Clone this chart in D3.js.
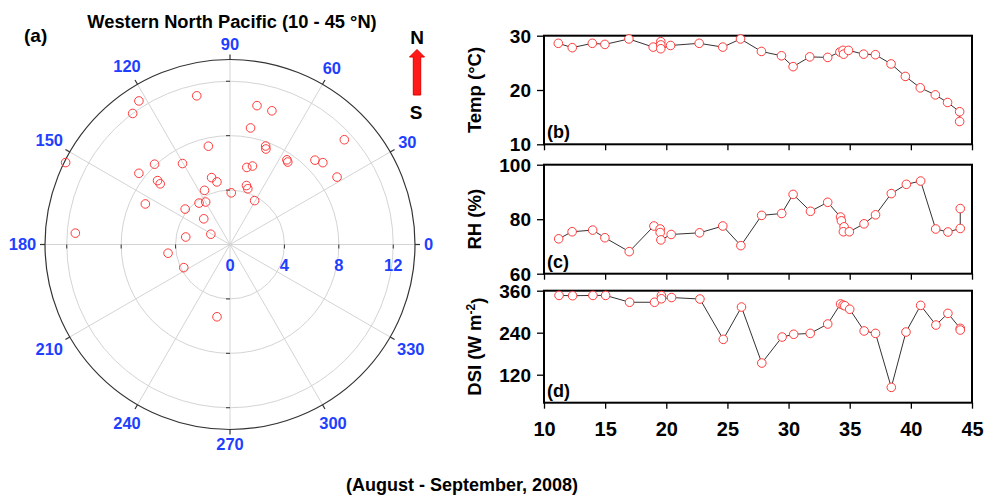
<!DOCTYPE html>
<html>
<head>
<meta charset="utf-8">
<script src="https://cdn.jsdelivr.net/npm/d3@7"></script>
<style>
  body { margin: 0; background: #fff; }
  text { font-family: "Liberation Sans", Arial, sans-serif; font-weight: bold; }
</style>
</head>
<body>
<svg id="chart" width="993" height="496"></svg>
<script>
// polar panel (a): direction (deg) and speed of each point
var windDir = [102.6, 122.4, 126.6, 79.0, 72.6, 80.0, 42.5, 102.4, 70.1, 69.4, 153.5, 133.2, 120.4, 77.7,
    74.0, 56.1, 55.0, 44.8, 41.4, 32.2, 142.0, 105.4, 101.8, 138.6, 139.0, 74.4, 72.3, 88.6, 115.2, 60.7,
    126.8, 119.8, 154.4, 141.7, 135.6, 175.8, 170.4, 151.8, 188.0, 206.6, 259.8];
var windSpd = [11.2, 12.5, 12.0, 10.4, 10.3, 8.7, 11.4, 7.4, 7.7, 7.5, 13.5, 8.1, 6.9, 5.8,
    6.0, 7.5, 7.4, 8.8, 9.1, 9.3, 8.5, 5.1, 4.7, 7.1, 6.8, 4.5, 4.3, 3.8, 4.4, 3.7,
    3.8, 3.6, 6.9, 4.2, 2.7, 11.4, 3.3, 1.6, 4.6, 3.8, 5.4];
var angleTicks = [0, 30, 60, 90, 120, 150, 180, 210, 240, 270, 300, 330];
var radialTicks = [0, 4, 8, 12];

// panel (b) temperature
var tempLat = [11.17, 12.31, 13.95, 14.98, 16.94, 18.93, 19.55, 19.55, 19.55, 20.35, 22.69, 24.62, 26.07,
    27.78, 29.42, 30.37, 31.73, 33.2, 34.2, 34.45, 34.5, 34.9, 36.14, 37.1, 38.38, 39.55, 40.77, 42.0,
    43.0, 43.99, 43.99];
var tempVal = [28.6, 27.8, 28.6, 28.4, 29.4, 27.9, 28.9, 28.3, 27.6, 28.2, 28.6, 27.9, 29.4,
    27.1, 26.3, 24.3, 26.1, 26.0, 27.0, 27.3, 26.6, 27.3, 26.6, 26.5, 24.8, 22.5, 20.4, 19.1,
    17.7, 16.0, 14.2];

// panel (c) relative humidity
var rhLat = [11.2, 12.3, 13.98, 14.98, 16.97, 18.99, 19.5, 19.5, 19.56, 20.4, 22.72, 24.62, 26.1, 27.8,
    29.44, 30.37, 31.79, 33.2, 34.25, 34.32, 34.54, 34.48, 34.97, 36.17, 37.11, 38.4, 39.63, 40.8,
    42.03, 43.03, 44.04, 44.04];
var rhVal = [72.8, 75.4, 76.0, 73.2, 68.1, 77.5, 76.4, 75.1, 72.4, 74.4, 75.0, 77.5, 70.3, 81.4,
    82.1, 89.1, 82.9, 86.2, 80.8, 79.4, 77.2, 75.4, 75.4, 78.3, 81.6, 89.4, 92.8, 94.0,
    76.4, 75.3, 76.6, 83.9];

// panel (d) downward solar irradiance
var dsiLat = [11.23, 12.34, 14.0, 15.04, 17.0, 19.04, 19.6, 19.6, 20.43, 22.75, 24.66, 26.15, 27.81,
    29.47, 30.42, 31.77, 33.2, 34.25, 34.46, 34.6, 35.0, 36.18, 37.11, 38.4, 39.6, 40.8, 42.05,
    43.03, 44.04, 44.04];
var dsiVal = [346.5, 345.7, 346.5, 346.5, 327, 327, 346, 337, 340.5, 336.2, 221, 313.3, 153.3,
    227.6, 235.5, 238, 264.8, 322, 319, 317, 307, 245, 238.1, 83.8, 241.9, 318.1, 261.9,
    295.2, 252.4, 247.6];

var latTicks = [10, 15, 20, 25, 30, 35, 40, 45];

var red = '#ff3b3b';
var blue = '#1f3fff';
var svg = d3.select('#chart');

// ---------- polar plot ----------
var cx = 230, cy = 244.5, R = 185;
var rScale = d3.scaleLinear().domain([0, 13.6]).range([0, R]);
function px(a, r) { return cx + r * Math.cos(a * Math.PI / 180); }
function py(a, r) { return cy - r * Math.sin(a * Math.PI / 180); }

var polar = svg.append('g');

// rings
polar.selectAll('.ring')
    .data(radialTicks.filter(function(d) { return d > 0; }))
    .enter().append('circle')
    .attr('cx', cx).attr('cy', cy)
    .attr('r', function(d) { return rScale(d); })
    .attr('fill', 'none')
    .attr('stroke', '#d4d4d4')
    .attr('stroke-width', 1);

// spokes
polar.selectAll('.spoke')
    .data(angleTicks)
    .enter().append('line')
    .attr('x1', cx).attr('y1', cy)
    .attr('x2', function(d) { return px(d, R); })
    .attr('y2', function(d) { return py(d, R); })
    .attr('stroke', '#d4d4d4')
    .attr('stroke-width', 1);

// outer circle
polar.append('circle')
    .attr('cx', cx).attr('cy', cy).attr('r', R)
    .attr('fill', 'none')
    .attr('stroke', '#333')
    .attr('stroke-width', 1.2);

// outer ticks
polar.selectAll('.otick')
    .data(angleTicks)
    .enter().append('line')
    .attr('x1', function(d) { return px(d, R); })
    .attr('y1', function(d) { return py(d, R); })
    .attr('x2', function(d) { return px(d, R + 5); })
    .attr('y2', function(d) { return py(d, R + 5); })
    .attr('stroke', '#333')
    .attr('stroke-width', 1.2);

// small ticks on the horizontal and vertical axes
[4, 8, 12].forEach(function(v) {
    [-1, 1].forEach(function(s) {
        polar.append('line')
            .attr('x1', cx + s * rScale(v)).attr('x2', cx + s * rScale(v))
            .attr('y1', cy).attr('y2', cy + 4)
            .attr('stroke', '#333');
        polar.append('line')
            .attr('x1', cx - 4).attr('x2', cx)
            .attr('y1', cy + s * rScale(v)).attr('y2', cy + s * rScale(v))
            .attr('stroke', '#333');
    });
});

// angle labels
function labelRadius(d) {
    var n = String(d).length;
    var a = d * Math.PI / 180;
    return 194 + 4.5 * n * Math.abs(Math.cos(a)) + 6 * Math.abs(Math.sin(a));
}
polar.selectAll('.alabel')
    .data(angleTicks)
    .enter().append('text')
    .attr('x', function(d) { return px(d, labelRadius(d)); })
    .attr('y', function(d) { return py(d, labelRadius(d)); })
    .attr('dy', '0.36em')
    .attr('text-anchor', 'middle')
    .attr('fill', blue)
    .style('font-size', '16.5px')
    .text(function(d) { return d; });

// radial labels
polar.selectAll('.rlabel')
    .data(radialTicks)
    .enter().append('text')
    .attr('x', function(d) { return cx + rScale(d); })
    .attr('y', cy + 21)
    .attr('dy', '0.36em')
    .attr('text-anchor', 'middle')
    .attr('fill', blue)
    .style('font-size', '16.5px')
    .text(function(d) { return d; });

// points
polar.selectAll('.pt')
    .data(windDir)
    .enter().append('circle')
    .attr('cx', function(d, i) { return px(d, rScale(windSpd[i])); })
    .attr('cy', function(d, i) { return py(d, rScale(windSpd[i])); })
    .attr('r', 4.3)
    .attr('fill', 'none')
    .attr('stroke', red)
    .attr('stroke-width', 1);

// titles
svg.append('text')
    .attr('x', 232).attr('y', 28)
    .attr('text-anchor', 'middle')
    .style('font-size', '18.3px')
    .text('Western North Pacific (10 - 45 °N)');
svg.append('text')
    .attr('x', 24).attr('y', 42)
    .style('font-size', '19px')
    .text('(a)');

// N / S arrow
svg.append('text').attr('x', 417).attr('y', 44).attr('text-anchor', 'middle')
    .style('font-size', '19px').text('N');
svg.append('text').attr('x', 416).attr('y', 119).attr('text-anchor', 'middle')
    .style('font-size', '19px').text('S');
svg.append('path')
    .attr('d', 'M413.3,95 L413.3,57 L409.5,57 L417,49.5 L424.5,57 L420.7,57 L420.7,95 Z')
    .attr('fill', '#ff1a1a')
    .attr('stroke', '#e00000')
    .attr('stroke-width', 1);

// ---------- line panels ----------
var left = 544, right = 972;
var xScale = d3.scaleLinear().domain([10, 45]).range([left, right]);

var panels = [
    { lat: tempLat, val: tempVal, top: 35.7, bottom: 144.3, domain: [10, 30], ticks: [10, 20, 30], tag: '(b)', title: 'Temp (°C)' },
    { lat: rhLat, val: rhVal, top: 164.7, bottom: 273.7, domain: [60, 100], ticks: [60, 80, 100], tag: '(c)', title: 'RH (%)' },
    { lat: dsiLat, val: dsiVal, top: 290.7, bottom: 402.7, domain: [40, 360], ticks: [120, 240, 360], tag: '(d)', title: 'DSI' }
];

panels.forEach(function(p, k) {
    var yScale = d3.scaleLinear().domain(p.domain).range([p.bottom, p.top]);
    var g = svg.append('g');

    // y axis
    var yAxis = g.append('g')
        .attr('transform', 'translate(' + left + ',0)')
        .call(d3.axisLeft(yScale).tickValues(p.ticks).tickSize(7).tickSizeOuter(0).tickPadding(6));
    yAxis.select('.domain').remove();
    yAxis.selectAll('line').attr('stroke', '#000').attr('stroke-width', 1.3);
    yAxis.selectAll('text').style('font-size', '19px').attr('fill', '#000')
        .attr('dy', '0.34em')
        .style('font-family', '"Liberation Sans", Arial, sans-serif');

    // x axis
    var xAxis = g.append('g')
        .attr('transform', 'translate(0,' + p.bottom + ')')
        .call(d3.axisBottom(xScale).tickValues(latTicks).tickSize(6).tickSizeOuter(0).tickPadding(13)
            .tickFormat(k === 2 ? d3.format('d') : function() { return ''; }));
    xAxis.select('.domain').remove();
    xAxis.selectAll('line').attr('stroke', '#000').attr('stroke-width', 1.3);
    xAxis.selectAll('text').style('font-size', '20px').attr('fill', '#000')
        .style('font-family', '"Liberation Sans", Arial, sans-serif');

    // frame
    g.append('rect')
        .attr('x', left).attr('y', p.top)
        .attr('width', right - left).attr('height', p.bottom - p.top)
        .attr('fill', 'none')
        .attr('stroke', '#000')
        .attr('stroke-width', 2);

    var line = d3.line()
        .x(function(d, i) { return xScale(p.lat[i]); })
        .y(function(d) { return yScale(d); });

    g.append('path')
        .datum(p.val)
        .attr('fill', 'none')
        .attr('stroke', '#333')
        .attr('stroke-width', 1)
        .attr('d', line);

    g.selectAll('.pt')
        .data(p.val)
        .enter().append('circle')
        .attr('cx', function(d, i) { return xScale(p.lat[i]); })
        .attr('cy', function(d) { return yScale(d); })
        .attr('r', 4.3)
        .attr('fill', '#fff')
        .attr('stroke', red)
        .attr('stroke-width', 1);

    g.append('text')
        .attr('x', left + 3).attr('y', p.bottom - 6)
        .style('font-size', '18px')
        .text(p.tag);

    var t = g.append('text')
        .attr('transform', 'translate(481,' + ((p.top + p.bottom) / 2) + ') rotate(-90)')
        .attr('text-anchor', 'middle')
        .style('font-size', '18.5px')
        .text(p.title);
    if (k === 2) {
        t.append('tspan').text(' (W m');
        t.append('tspan').attr('dy', '-0.5em').style('font-size', '12px').text('-2');
        t.append('tspan').attr('dy', '0.5em').text(')');
    }
});

// bottom caption
svg.append('text')
    .attr('x', 462).attr('y', 491)
    .attr('text-anchor', 'middle')
    .style('font-size', '18px')
    .text('(August - September, 2008)');
</script>
</body>
</html>
